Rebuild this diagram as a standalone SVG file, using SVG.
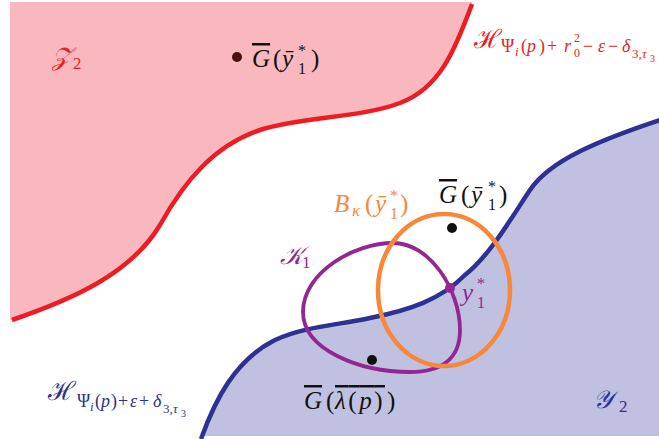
<svg xmlns="http://www.w3.org/2000/svg" width="659" height="439" viewBox="0 0 659 439">
<style>
.m{font-family:"Liberation Serif","DejaVu Serif",serif;}
.it{font-style:italic;}
.ov{text-decoration:overline;}
.red{fill:#ed1c24;}
.blu{fill:#2e3192;}
.pur{fill:#92278f;}
.org{fill:#f7883a;}
.blk{fill:#111;}
</style>
<rect width="659" height="439" fill="#fff"/>
<g id="region-Z2">
<path d="M10,2 L472,2 L472,4 C455,50 440,88 400,103 C360,118 300,117 260,130 C215,145 185,180 160,225 C130,275 70,300 12,320 L10,320 Z" fill="#f9b8bd"/>
</g>
<g id="region-Y2">
<path d="M201,436 L201,439 C215,400 235,360 275,340 C305,326 340,325 370,318 C410,310 440,300 465,275 C490,255 510,220 530,190 C550,160 600,140 659,120 L659,436 Z" fill="#c0c1e0"/>
</g>
<g id="connectors" fill="none" stroke-linecap="butt">
<path id="H-red" d="M12,320 C70,300 130,275 160,225 C185,180 215,145 260,130 C300,117 360,118 400,103 C440,88 455,50 472,4" stroke="#ed1c24" stroke-width="4.5"/>
<path id="H-blue" d="M201,439 C215,400 235,360 275,340 C305,326 340,325 370,318 C410,310 440,300 465,275 C490,255 510,220 530,190 C550,160 600,140 660,120" stroke="#2e3192" stroke-width="4.5"/>
</g>
<g id="K1">
<path d="M303,312 C303,272 355,243 393,243 C430,243 460,290 460,330 C460,360 440,372 410,372 C360,372 303,350 303,312 Z" fill="none" stroke="#92278f" stroke-width="3.8"/>
<text class="m pur" font-size="25"><tspan class="it" x="280" y="264">𝒦</tspan><tspan font-size="17" x="302" y="268">1</tspan></text>
</g>
<g id="ball">
<ellipse cx="444" cy="290" rx="66" ry="76" fill="none" stroke="#f7883a" stroke-width="4.5"/>
<text class="m org" font-size="25"><tspan class="it" x="334" y="212">B</tspan><tspan class="it" font-size="17" x="352" y="216">κ</tspan><tspan x="365" y="212">(</tspan><tspan class="it" x="375" y="212">ȳ</tspan><tspan font-size="16" x="390" y="201">*</tspan><tspan font-size="16" x="390" y="219">1</tspan><tspan x="400" y="212">)</tspan></text>
</g>
<g id="pt-Gy-pink">
<circle cx="237" cy="57" r="5" fill="#4a1010"/>
<text class="m blk" font-size="25"><tspan class="it ov" x="252" y="67">G</tspan><tspan x="273" y="67">(</tspan><tspan class="it" x="282" y="67">ȳ</tspan><tspan font-size="16" x="298" y="56">*</tspan><tspan font-size="16" x="298" y="74">1</tspan><tspan x="311" y="67">)</tspan></text>
</g>
<g id="pt-Gy">
<circle cx="452" cy="228" r="5" fill="#111"/>
<text class="m blk" font-size="25"><tspan class="it ov" x="439" y="203">G</tspan><tspan x="461" y="203">(</tspan><tspan class="it" x="471" y="203">ȳ</tspan><tspan font-size="16" x="488" y="192">*</tspan><tspan font-size="16" x="488" y="210">1</tspan><tspan x="499" y="203">)</tspan></text>
</g>
<g id="pt-y1">
<circle cx="450" cy="288" r="5" fill="#92278f"/>
<text class="m pur" font-size="25"><tspan class="it" x="462" y="301">y</tspan><tspan font-size="16" x="477" y="289">*</tspan><tspan font-size="16" x="477" y="308">1</tspan></text>
</g>
<g id="pt-Glambda">
<circle cx="372" cy="360" r="5" fill="#111"/>
<text class="m blk" font-size="25"><tspan class="it ov" x="304" y="409">G</tspan><tspan x="326" y="409">(</tspan><tspan class="ov" x="335" y="409" letter-spacing="2.5"><tspan class="it">λ</tspan>(<tspan class="it">p</tspan>)</tspan><tspan x="387" y="409">)</tspan></text>
</g>
<g id="label-Z2">
<text class="m red" font-size="25"><tspan class="it" x="52" y="65">𝒵</tspan><tspan font-size="17" x="73" y="69">2</tspan></text>
</g>
<g id="label-Y2">
<text class="m blu" font-size="25"><tspan class="it" x="593" y="408">𝒴</tspan><tspan font-size="17" x="619" y="412">2</tspan></text>
</g>
<g id="label-H-red">
<text class="m red" font-size="26"><tspan x="474" y="48">ℋ</tspan><tspan font-size="18" x="501" y="52">Ψ</tspan><tspan font-size="13" class="it" x="515" y="56">i</tspan><tspan font-size="18" x="521" y="52">(</tspan><tspan font-size="18" class="it" x="527" y="52">p</tspan><tspan font-size="18" x="539" y="52">)</tspan><tspan font-size="18" x="547" y="52">+</tspan><tspan font-size="18" class="it" x="564" y="52">r</tspan><tspan font-size="12" x="574" y="42">2</tspan><tspan font-size="12" x="574" y="57">0</tspan><tspan font-size="18" x="583" y="52">−</tspan><tspan font-size="18" class="it" x="598" y="52">ε</tspan><tspan font-size="18" x="608" y="52">−</tspan><tspan font-size="18" class="it" x="622" y="52">δ</tspan><tspan font-size="13" x="632" y="58">3,</tspan><tspan font-size="13" class="it" x="642" y="58">τ</tspan><tspan font-size="10" x="650" y="62">3</tspan></text>
</g>
<g id="label-H-blue">
<text class="m blu" font-size="26"><tspan x="48" y="400">ℋ</tspan><tspan font-size="18" x="77" y="407">Ψ</tspan><tspan font-size="13" class="it" x="90" y="411">i</tspan><tspan font-size="18" x="95" y="407">(</tspan><tspan font-size="18" class="it" x="101" y="407">p</tspan><tspan font-size="18" x="111" y="407">)</tspan><tspan font-size="18" x="118" y="407">+</tspan><tspan font-size="18" class="it" x="130" y="407">ε</tspan><tspan font-size="18" x="139" y="407">+</tspan><tspan font-size="18" class="it" x="153" y="407">δ</tspan><tspan font-size="13" x="163" y="413">3,</tspan><tspan font-size="13" class="it" x="173" y="413">τ</tspan><tspan font-size="10" x="181" y="417">3</tspan></text>
</g>
</svg>
